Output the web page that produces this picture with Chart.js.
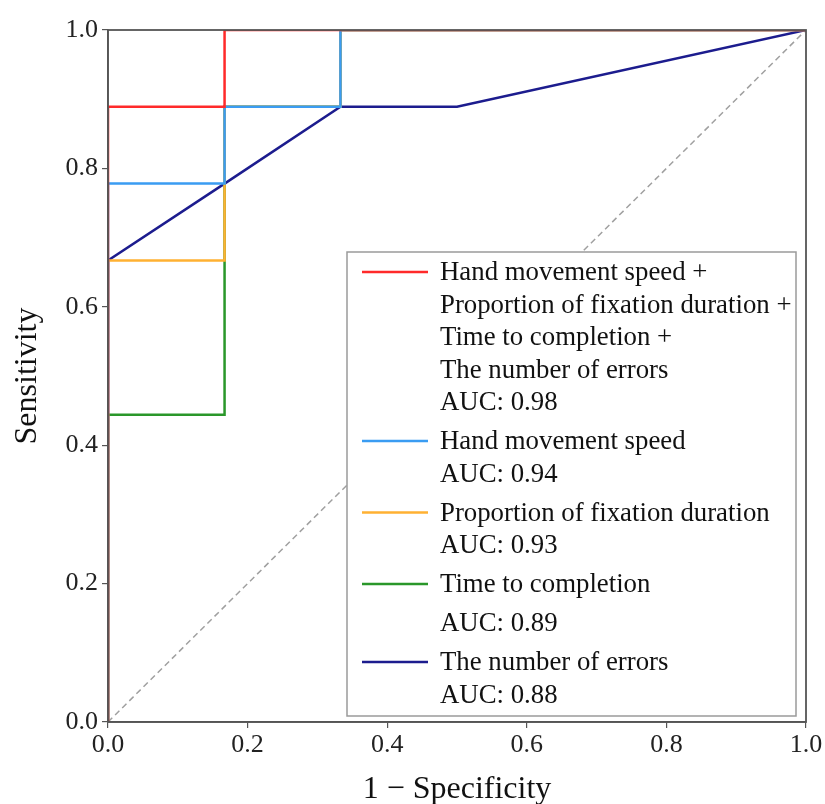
<!DOCTYPE html>
<html>
<head>
<meta charset="utf-8">
<script src="https://cdn.jsdelivr.net/npm/chart.js@4.4.1/dist/chart.umd.min.js"></script>
<style>
  html, body { margin: 0; padding: 0; background: #fff; }
  #wrap { width: 825px; height: 804px; }
</style>
</head>
<body>
<div id="wrap"><canvas id="rocChart" width="825" height="804"></canvas></div>
<script>
// ---- data ----
const tickValues = [0.0, 0.2, 0.4, 0.6, 0.8, 1.0];

const combinedFpr = [0, 0, 0.167, 0.167, 1];
const combinedTpr = [0, 0.889, 0.889, 1, 1];

const speedFpr = [0, 0, 0.167, 0.167, 0.333, 0.333, 1];
const speedTpr = [0, 0.778, 0.778, 0.889, 0.889, 1, 1];

const fixationFpr = [0, 0, 0.167, 0.167, 0.333, 0.333, 1];
const fixationTpr = [0, 0.667, 0.667, 0.889, 0.889, 1, 1];

const timeFpr = [0, 0, 0.167, 0.167, 0.333, 0.333, 1];
const timeTpr = [0, 0.444, 0.444, 0.889, 0.889, 1, 1];

const errorsFpr = [0, 0, 0.167, 0.333, 0.5, 1];
const errorsTpr = [0, 0.667, 0.778, 0.889, 0.889, 1];

const chanceFpr = [0, 1];
const chanceTpr = [0, 1];

const seriesLabels = [
    ["Hand movement speed +", "Proportion of fixation duration +", "Time to completion +", "The number of errors", "AUC: 0.98"],
    ["Hand movement speed", "AUC: 0.94"],
    ["Proportion of fixation duration", "AUC: 0.93"],
    ["Time to completion", "AUC: 0.89"],
    ["The number of errors", "AUC: 0.88"]
];
const seriesColors = ["#ff2a2a", "#3a9cf2", "#ffb132", "#2a972a", "#1c1c8e"];

function toPoints(xs, ys) {
    return xs.map((x, i) => ({ x: x, y: ys[i] }));
}

const FONT = "'Liberation Serif', 'Times New Roman', serif";

// ---- legend box drawn inside the plot (multi-line labels) ----
const rocLegend = {
    id: "rocLegend",
    afterDatasetsDraw(chart) {
        const ctx = chart.ctx;
        const a = chart.chartArea;
        const left = a.left + 239, top = a.top + 222;
        const right = a.right - 10, bottom = a.bottom - 6;
        ctx.save();
        ctx.fillStyle = "#fff";
        ctx.fillRect(left, top, right - left, bottom - top);
        ctx.strokeStyle = "#9a9a9a";
        ctx.lineWidth = 1.5;
        ctx.strokeRect(left, top, right - left, bottom - top);

        ctx.font = "26.8px " + FONT;
        ctx.fillStyle = "#111";
        ctx.textBaseline = "middle";
        ctx.textAlign = "left";
        let y = top + 20;
        seriesLabels.forEach((lines, i) => {
            ctx.strokeStyle = seriesColors[i];
            ctx.lineWidth = 2.5;
            ctx.beginPath();
            ctx.moveTo(left + 15, y);
            ctx.lineTo(left + 81, y);
            ctx.stroke();
            lines.forEach((t, j) => {
                ctx.fillText(t, left + 93, y + 1);
                if (j < lines.length - 1) y += (i === 3 ? 39 : 32.5);
            });
            y += 39;
        });
        ctx.restore();
    },
    afterDraw(chart) {
        // full box of spines
        const ctx = chart.ctx;
        const a = chart.chartArea;
        ctx.save();
        ctx.strokeStyle = "#555";
        ctx.lineWidth = 1.8;
        ctx.strokeRect(a.left, a.top, a.right - a.left, a.bottom - a.top);
        ctx.restore();
    }
};

const ctx = document.getElementById("rocChart").getContext("2d");
new Chart(ctx, {
    type: "scatter",
    data: {
        datasets: [
            { label: "combined", data: toPoints(combinedFpr, combinedTpr), borderColor: seriesColors[0] },
            { label: "speed", data: toPoints(speedFpr, speedTpr), borderColor: seriesColors[1] },
            { label: "fixation", data: toPoints(fixationFpr, fixationTpr), borderColor: seriesColors[2] },
            { label: "time", data: toPoints(timeFpr, timeTpr), borderColor: seriesColors[3] },
            { label: "errors", data: toPoints(errorsFpr, errorsTpr), borderColor: seriesColors[4] },
            { label: "chance", data: toPoints(chanceFpr, chanceTpr), borderColor: "#a0a0a0", borderWidth: 1.5, borderDash: [6, 4] }
        ].map(d => Object.assign({ showLine: true, pointRadius: 0, borderWidth: 2.5, tension: 0, fill: false, clip: 0 }, d))
    },
    options: {
        responsive: false,
        animation: false,
        layout: { padding: { top: 30, right: 19, left: 0, bottom: 0 } },
        scales: {
            x: {
                type: "linear",
                min: 0, max: 1,
                afterBuildTicks: s => { s.ticks = tickValues.map(v => ({ value: v })); },
                afterFit: s => { s.height = 82; },
                ticks: { callback: v => v.toFixed(1), color: "#222", font: { family: FONT, size: 26 }, padding: 2, maxRotation: 0 },
                grid: { drawOnChartArea: false, drawTicks: true, tickLength: 6, color: "#555", lineWidth: 1.2 },
                border: { display: true, color: "#555", width: 1.5 },
                title: { display: true, text: "1 − Specificity", color: "#111", font: { family: FONT, size: 32 }, padding: { top: 0, bottom: -5 } }
            },
            y: {
                type: "linear",
                min: 0, max: 1,
                afterBuildTicks: s => { s.ticks = tickValues.map(v => ({ value: v })); },
                afterFit: s => { s.width = 108; },
                ticks: { callback: v => v.toFixed(1), color: "#222", font: { family: FONT, size: 26 }, padding: 4 },
                grid: { drawOnChartArea: false, drawTicks: true, tickLength: 6, color: "#555", lineWidth: 1.2 },
                border: { display: true, color: "#555", width: 1.5 },
                title: { display: true, text: "Sensitivity", color: "#111", font: { family: FONT, size: 32 }, padding: { top: 8, bottom: 0 } }
            }
        },
        plugins: {
            legend: { display: false },
            tooltip: { enabled: false }
        }
    },
    plugins: [rocLegend]
});
</script>
</body>
</html>
